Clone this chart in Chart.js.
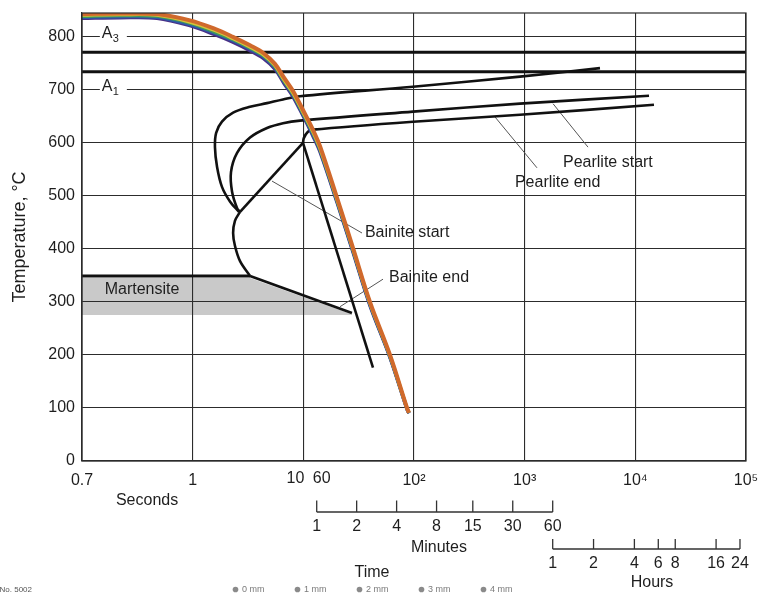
<!DOCTYPE html>
<html>
<head>
<meta charset="utf-8">
<script src="https://cdn.jsdelivr.net/npm/chart.js@4.4.1/dist/chart.umd.min.js"></script>
<style>
  html, body { margin: 0; padding: 0; background: #fff; }
  #wrap { width: 761px; height: 604px; }
</style>
</head>
<body>
<div id="wrap"><canvas id="cct" width="761" height="604"></canvas></div>
<script>
// ---- Axes -------------------------------------------------------------
// Time in seconds on a log axis; the leftmost decade carries the label 0.7
const xTickValues = [0.1, 1, 10, 100, 1000, 10000, 100000];
const xTickLabels = ['0.7', '1', '10', '10²', '10³', '10⁴', '10⁵'];
const yTickValues = [0, 100, 200, 300, 400, 500, 600, 700, 800];

// Secondary time rulers
const minuteTicks = [1, 2, 4, 8, 15, 30, 60];
const hourTicks = [1, 2, 4, 6, 8, 16, 24];

// ---- Cooling curves (temperature vs time) for the five probe depths ----
const coolingTimes = [0.1, 0.22, 0.476, 0.946, 1.59, 2.31, 3.3, 4.32, 5.54, 6.69, 8.07, 9.93, 12.2, 14.2, 20.2, 28.1, 40, 60.7, 86.5, 90.1];
const cool0mm = [835, 836, 835, 821, 804, 790, 774, 760, 739, 712, 687, 651, 613, 582, 487, 394, 293, 195, 97, 90];
const cool1mm = [837, 838, 837, 823, 807, 793, 777, 763, 742, 715, 690, 654, 616, 585, 489, 396, 295, 196, 98, 90];
const cool2mm = [839, 840, 839, 826, 809, 795, 779, 765, 744, 717, 692, 656, 619, 587, 491, 398, 297, 197, 99, 91];
const cool3mm = [841, 842, 841, 828, 812, 797, 781, 767, 746, 719, 694, 658, 621, 589, 493, 400, 298, 199, 99, 91];
const cool4mm = [843, 844, 843, 831, 815, 800, 784, 770, 749, 723, 698, 662, 625, 593, 496, 402, 300, 200, 100, 91];
const depthNames = ['0 mm', '1 mm', '2 mm', '3 mm', '4 mm'];

// ---- Critical temperatures (°C) ---------------------------------------
const A3 = 771;
const A1 = 734;
const Ms = 349;

// ---- Transformation boundaries: [time s, temperature °C] ---------------
const ferriteStart = [[4793, 741], [907, 725], [97.9, 706], [9.33, 688], [6.55, 682], [4.70, 675], [3.30, 668], [2.32, 657], [1.84, 640], [1.63, 619], [1.59, 592], [1.66, 555], [1.84, 517], [2.18, 489], [2.62, 470]];
const pearliteStart = [[13290, 689], [907, 674], [97.9, 659], [9.33, 642], [6.55, 637], [4.70, 628], [3.30, 610], [2.52, 581], [2.22, 545], [2.27, 508], [2.52, 477], [2.68, 470]];
const pearliteEnd = [[14740, 672], [907, 653], [97.9, 640], [12.2, 625], [11.0, 621], [10.1, 609], [9.93, 600]];
const bainiteStartUpper = [[2.68, 470], [9.93, 600]];
const bainiteStartLower = [[2.68, 470], [2.41, 453], [2.32, 430], [2.41, 406], [2.68, 377], [3.30, Ms]];
const bainiteEnd = [[3.30, Ms], [27.5, 279]];
const criticalCooling = [[9.93, 600], [42.6, 176]];
const msLine = [[0.1, Ms], [3.30, Ms]];
const martensiteTop = [[0.1, 345], [3.30, 345], [27.5, 277]];
const martensiteBottom = [[0.1, 275.5], [3.30, 275.5], [27.5, 275.5]];

// Leader lines from the boundary names to their curves
const leaderPearliteStart = [[1803, 674], [3734, 592]];
const leaderPearliteEnd = [[539, 649], [1292, 553]];
const leaderBainiteStart = [[5.21, 528], [33.9, 430]];
const leaderBainiteEnd = [[21.45, 291], [52.5, 343]];

// ---- Styling ------------------------------------------------------------
const FONT = '"Liberation Sans", Arial, Helvetica, sans-serif';
const INK = '#1e1e1e';
const GRID = '#2c2c2c';
const depthColors = ['#4a2f86', '#2e5aa8', '#3f9a5a', '#d8c23a', '#d0692c'];

const toPts = arr => arr.map(([t, T]) => ({ x: t, y: T }));
const span = T => [{ x: 0.1, y: T }, { x: 100000, y: T }];

function blackLine(pairs, opts = {}) {
  return Object.assign({
    data: toPts(pairs), borderColor: '#111', borderWidth: 2.6,
    tension: 0, pointRadius: 0, fill: false, order: 6
  }, opts);
}
function leader(pairs) {
  return { data: toPts(pairs), borderColor: '#555', borderWidth: 1, pointRadius: 0, fill: false, order: 7 };
}

const coolingSeries = [cool0mm, cool1mm, cool2mm, cool3mm, cool4mm];
const coolingDatasets = coolingSeries.map((temps, i) => ({
  label: depthNames[i],
  isCooling: true,
  data: temps.map((T, k) => ({ x: coolingTimes[k], y: T })),
  borderColor: depthColors[i],
  borderWidth: i === 4 ? 4 : 3.4,
  tension: 0.35,
  pointRadius: 0,
  fill: false,
  order: 4 - i
}));

const datasets = [
  ...coolingDatasets,
  blackLine([], { data: span(A3), borderWidth: 3 }),
  blackLine([], { data: span(A1), borderWidth: 3 }),
  blackLine(ferriteStart, { tension: 0.35 }),
  blackLine(pearliteStart, { tension: 0.35 }),
  blackLine(pearliteEnd, { tension: 0.3 }),
  blackLine(bainiteStartUpper),
  blackLine(bainiteStartLower, { tension: 0.35 }),
  blackLine(bainiteEnd),
  blackLine(criticalCooling),
  blackLine(msLine, { borderWidth: 3 }),
  leader(leaderPearliteStart),
  leader(leaderPearliteEnd),
  leader(leaderBainiteStart),
  leader(leaderBainiteEnd),
  { data: toPts(martensiteTop), borderWidth: 0, pointRadius: 0, backgroundColor: '#c9c9c9', fill: '+1', order: 20 },
  { data: toPts(martensiteBottom), borderWidth: 0, pointRadius: 0, fill: false, order: 21 }
];

// Text and rulers drawn on top of the plot
const decor = {
  id: 'decor',
  afterDraw(chart) {
    const { ctx, chartArea: a, scales: { x, y } } = chart;
    const px = v => x.getPixelForValue(v);
    const py = v => y.getPixelForValue(v);
    ctx.save();

    // plot frame
    ctx.strokeStyle = GRID;
    ctx.lineWidth = 1.2;
    ctx.strokeRect(a.left, a.top, a.right - a.left, a.bottom - a.top);

    // A3 / A1 tags sitting on the 800 and 700 grid lines
    const tag = (value, sub) => {
      const cx = px(0.19), cy = py(value);
      ctx.fillStyle = '#fff';
      ctx.fillRect(cx - 13, cy - 11, 27, 18);
      ctx.fillStyle = INK;
      ctx.textBaseline = 'alphabetic';
      ctx.textAlign = 'left';
      ctx.font = '16px ' + FONT;
      ctx.fillText('A', cx - 11, cy + 1.5);
      ctx.font = '11px ' + FONT;
      ctx.fillText(sub, cx, cy + 5.5);
    };
    tag(800, '3');
    tag(700, '1');

    // region and boundary names
    ctx.fillStyle = INK;
    ctx.font = '16px ' + FONT;
    ctx.textBaseline = 'middle';
    ctx.textAlign = 'center';
    ctx.fillText('Martensite', px(0.3485), py(324));
    ctx.textAlign = 'left';
    ctx.fillText('Pearlite start', px(2220), py(562));
    ctx.fillText('Pearlite end', px(817), py(526));
    ctx.fillText('Bainite start', px(36), py(430));
    ctx.fillText('Bainite end', px(59.4), py(345));

    // the 10 s label sits left of its grid line to leave room for the 60 s mark
    const b = a.bottom;
    ctx.textAlign = 'right';
    ctx.textBaseline = 'top';
    ctx.fillText('10', px(10) + 1, b + 10);
    ctx.textAlign = 'center';
    ctx.fillText('60', px(13.21) + 5, b + 10);
    ctx.textBaseline = 'middle';
    ctx.fillText('Seconds', px(0.387), b + 40);

    // minutes and hours rulers
    const ruler = (t0, t1, values, baseY, tickLen, labelY) => {
      const p0 = px(t0), p1 = px(t1);
      const l0 = Math.log(values[0]), l1 = Math.log(values[values.length - 1]);
      const pos = v => p0 + (Math.log(v) - l0) / (l1 - l0) * (p1 - p0);
      ctx.strokeStyle = '#333';
      ctx.lineWidth = 1.3;
      ctx.beginPath();
      ctx.moveTo(p0, baseY);
      ctx.lineTo(p1, baseY);
      values.forEach(v => {
        const p = pos(v);
        ctx.moveTo(p, baseY);
        ctx.lineTo(p, baseY - tickLen);
      });
      ctx.stroke();
      ctx.fillStyle = INK;
      values.forEach(v => ctx.fillText(String(v), pos(v), labelY));
    };
    ctx.font = '16px ' + FONT;
    ruler(13.21, 1792, minuteTicks, b + 51, 11.5, b + 66);
    ruler(1792, 88230, hourTicks, b + 88, 10, b + 103);
    ctx.fillText('Minutes', px(168), b + 87);
    ctx.fillText('Hours', px(14150), b + 122);
    ctx.fillText('Time', px(41.7), b + 112);

    // figure number at the lower left
    ctx.font = '8px ' + FONT;
    ctx.fillStyle = '#555';
    ctx.textAlign = 'right';
    ctx.fillText('No. 5002', 32, 590);

    ctx.restore();
  }
};

new Chart(document.getElementById('cct'), {
  type: 'line',
  data: { datasets },
  options: {
    responsive: false,
    animation: false,
    events: [],
    layout: { padding: { top: 13, right: 15, left: 0, bottom: 0 } },
    scales: {
      x: {
        type: 'logarithmic',
        min: 0.1,
        max: 100000,
        afterBuildTicks: s => { s.ticks = xTickValues.map(v => ({ value: v })); },
        afterFit: s => {
          const lg = s.chart.legend ? s.chart.legend.height : 0;
          s.height = s.chart.height - 461 - lg;
          s.paddingLeft = 0;
          s.paddingRight = 0;
        },
        grid: { color: GRID, lineWidth: 1.1, drawTicks: false },
        border: { color: GRID, width: 1.2 },
        ticks: {
          autoSkip: false, maxRotation: 0, padding: 10,
          color: INK, font: { family: FONT, size: 16 },
          callback: (v, i) => (xTickValues[i] === 10 ? '' : xTickLabels[i])
        }
      },
      y: {
        min: 0,
        max: 845,
        afterBuildTicks: s => { s.ticks = yTickValues.map(v => ({ value: v })); },
        afterFit: s => {
          s.width = 82;
          s.paddingTop = 0;
          s.paddingBottom = 0;
        },
        grid: { color: GRID, lineWidth: 1.1, drawTicks: false },
        border: { color: GRID, width: 1.2 },
        ticks: { padding: 7, color: INK, font: { family: FONT, size: 16 } },
        title: {
          display: true, text: 'Temperature, °C', color: INK,
          font: { family: FONT, size: 18 }, padding: { top: 9, bottom: 0 }
        }
      }
    },
    plugins: {
      filler: { drawTime: 'beforeDraw' },
      tooltip: { enabled: false },
      legend: {
        position: 'bottom',
        labels: {
          usePointStyle: true,
          boxWidth: 4,
          boxHeight: 4,
          padding: 31,
          font: { family: FONT, size: 9 },
          generateLabels: chart => chart.data.datasets
            .map((d, i) => ({ d, i }))
            .filter(o => o.d.isCooling)
            .map(o => ({
              text: o.d.label,
              datasetIndex: o.i,
              fillStyle: '#8a8a8a',
              strokeStyle: '#8a8a8a',
              fontColor: '#7a7a7a',
              lineWidth: 0,
              pointStyle: 'circle',
              hidden: false
            }))
        }
      }
    }
  },
  plugins: [decor]
});
</script>
</body>
</html>
